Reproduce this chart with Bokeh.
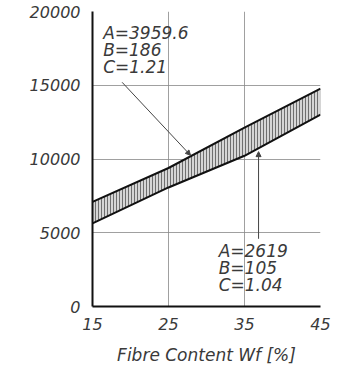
from bokeh.plotting import figure
from bokeh.models import Range1d, FixedTicker, Label, Arrow, NormalHead
from bokeh.embed import file_html
from bokeh.resources import INLINE

# Data
wf = [15, 25, 35, 45]
upper = [7090, 9390, 12130, 14770]
lower = [5640, 8070, 10220, 13010]
x_ticks = [15, 25, 35, 45]
y_ticks = [0, 5000, 10000, 15000, 20000]
upper_label = ["A=3959.6", "B=186", "C=1.21"]
lower_label = ["A=2619", "B=105", "C=1.04"]

FONT = "DejaVu Sans"
INK = "#3a3a3a"

p = figure(width=340, height=367, output_backend="svg", toolbar_location=None,
           x_range=Range1d(15, 45), y_range=Range1d(0, 20000),
           min_border_left=92, min_border_right=20, min_border_top=11, min_border_bottom=55)
p.outline_line_color = None
p.background_fill_color = "white"
p.border_fill_color = "white"

for ax in (p.xaxis[0], p.yaxis[0]):
    ax.major_tick_line_color = None
    ax.minor_tick_line_color = None
    ax.axis_line_color = "#111111"
    ax.axis_line_width = 2
    ax.major_label_text_font = FONT
    ax.major_label_text_font_style = "italic"
    ax.major_label_text_font_size = "16px"
    ax.major_label_text_color = INK

p.xaxis.ticker = FixedTicker(ticks=x_ticks)
p.yaxis.ticker = FixedTicker(ticks=y_ticks)
p.xaxis.major_label_standoff = 5
p.yaxis.major_label_standoff = 6
p.xaxis.axis_label = "Fibre Content Wf [%]"
p.xaxis.axis_label_text_font = FONT
p.xaxis.axis_label_text_font_style = "italic"
p.xaxis.axis_label_text_font_size = "17px"
p.xaxis.axis_label_text_color = INK
p.xaxis.axis_label_standoff = 12

p.xgrid.ticker = FixedTicker(ticks=x_ticks)
p.ygrid.ticker = FixedTicker(ticks=y_ticks)
for g in (p.xgrid[0], p.ygrid[0]):
    g.grid_line_color = "#888888"
    g.grid_line_width = 1
    g.grid_line_alpha = 0.8

# Band with vertical hatching
p.varea(x=wf, y1=lower, y2=upper, fill_color="#d6d6d6",
        hatch_pattern="vertical_line", hatch_color="#555555",
        hatch_scale=3, hatch_weight=1, hatch_alpha=0.8)
p.line(wf, upper, line_color="#111111", line_width=2)
p.line(wf, lower, line_color="#111111", line_width=2)

# Annotations
for i, t in enumerate(upper_label):
    p.add_layout(Label(x=16.4, y=18535 - i * 1150, text=t, text_font=FONT,
                       text_font_style="italic", text_font_size="17px",
                       text_color=INK, text_baseline="middle"))
for i, t in enumerate(lower_label):
    p.add_layout(Label(x=31.6, y=3730 - i * 1150, text=t, text_font=FONT,
                       text_font_style="italic", text_font_size="17px",
                       text_color=INK, text_baseline="middle"))

p.add_layout(Arrow(x_start=18.9, y_start=15200, x_end=27.9, y_end=10250,
                   line_color="#444444", line_width=1,
                   end=NormalHead(size=5, fill_color="#444444", line_color="#444444")))
p.add_layout(Arrow(x_start=36.85, y_start=4590, x_end=36.85, y_end=10500,
                   line_color="#444444", line_width=1,
                   end=NormalHead(size=5, fill_color="#444444", line_color="#444444")))

open("out.html", "w").write(file_html(p, INLINE))
